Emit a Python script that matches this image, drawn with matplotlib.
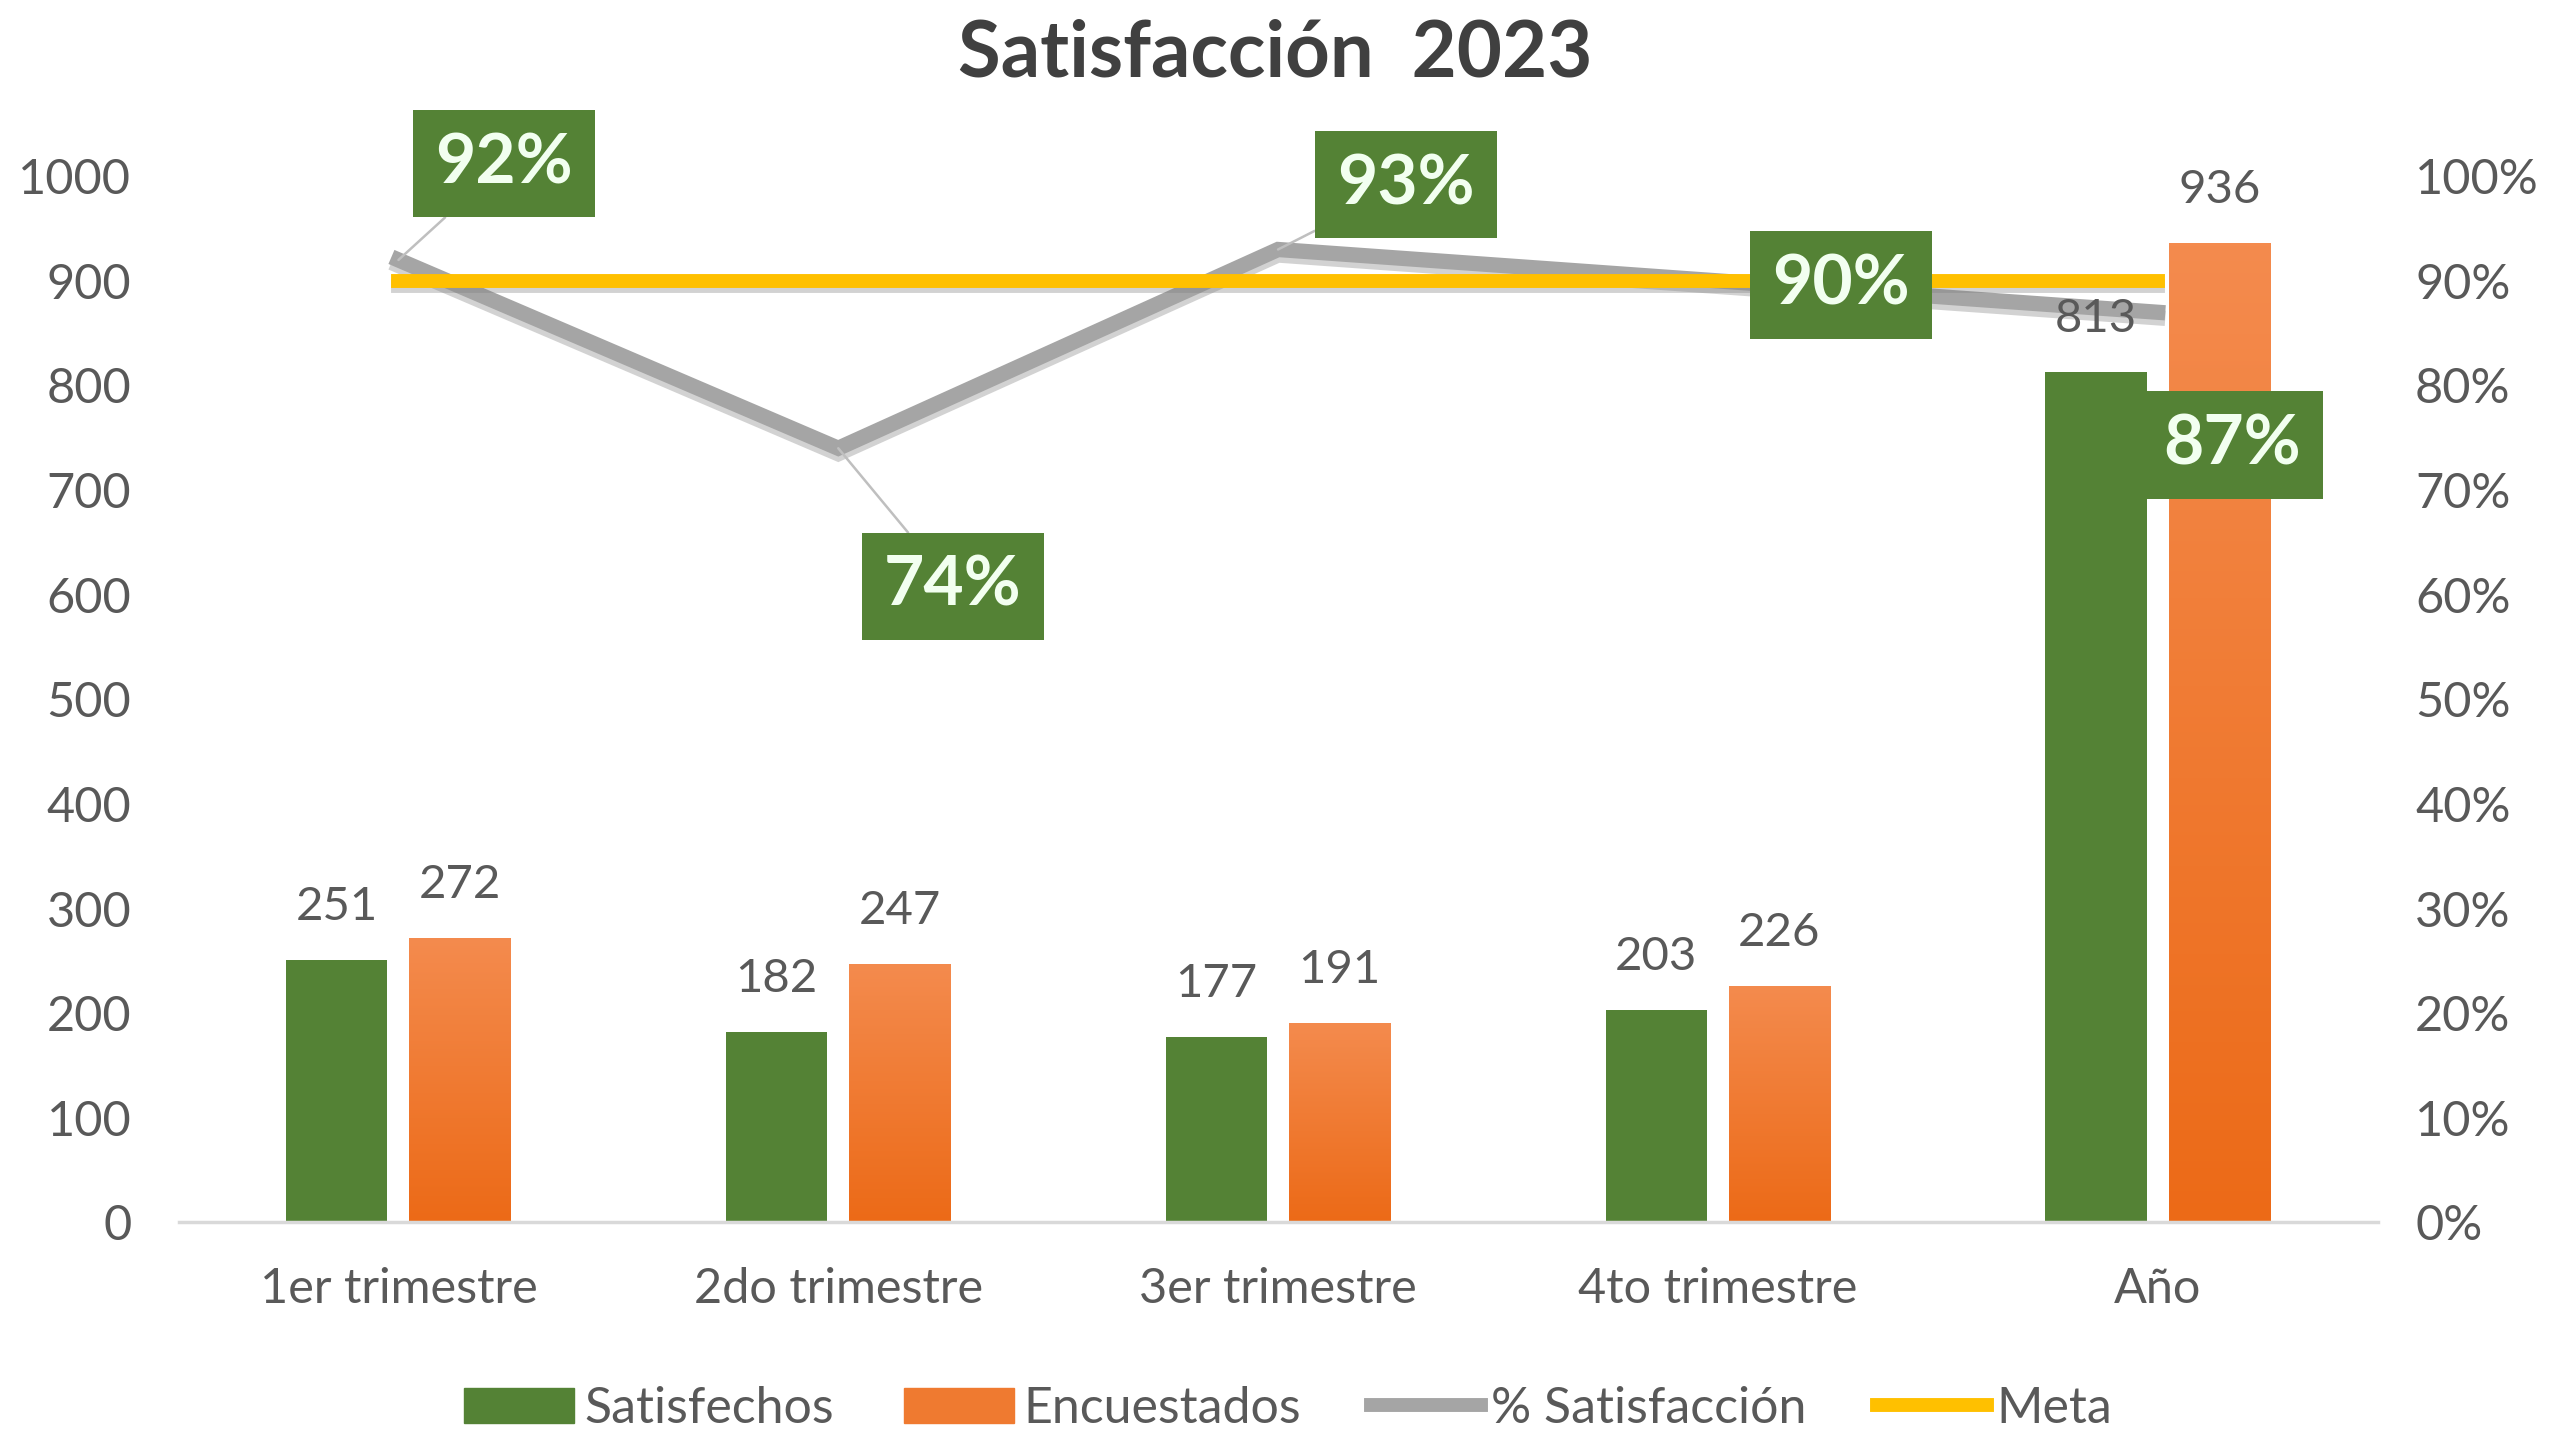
import numpy as np
import matplotlib
matplotlib.use("Agg")
import matplotlib.pyplot as plt
import matplotlib.patheffects as pe
from matplotlib.patches import Patch
from matplotlib.lines import Line2D
from matplotlib.colors import LinearSegmentedColormap

plt.rcParams["font.family"] = ["Lato", "DejaVu Sans"]

# ── data ─────────────────────────────────────
categories = ["1er trimestre", "2do trimestre", "3er trimestre", "4to trimestre", "Año"]
satisfechos = [251, 182, 177, 203, 813]
encuestados = [272, 247, 191, 226, 936]
pct_satisfaccion = [0.92, 0.74, 0.93, 0.90, 0.87]
meta = [0.90, 0.90, 0.90, 0.90, 0.90]
pct_labels = ["92%", "74%", "93%", "90%", "87%"]

# where the green % boxes sit (x in categories, y in right-axis units)
label_pos = [(0.24, 1.012), (1.26, 0.608), (2.29, 0.992), (3.28, 0.896), (4.17, 0.743)]
leader = [True, True, True, False, False]

GREEN = "#548235"
ORANGE_TOP = "#F48B4E"
ORANGE_BOT = "#EC6A17"
GRAY = "#A5A5A5"
YELLOW = "#FFC000"
TEXT = "#595959"

fig = plt.figure(figsize=(25.51, 14.33), dpi=100)
ax = fig.add_axes([0.070, 0.147, 0.862, 0.730])
ax2 = ax.twinx()

x = np.arange(len(categories))
w = 0.23
off = 0.14

ax.bar(x - off, satisfechos, w, color=GREEN, zorder=2)
obars = ax.bar(x + off, encuestados, w, color=ORANGE_BOT, zorder=2)

# vertical gradient on the orange bars
cmap = LinearSegmentedColormap.from_list("og", [ORANGE_BOT, ORANGE_TOP])
grad = np.linspace(0, 1, 256).reshape(-1, 1)
for b in obars:
    x0, y0 = b.get_x(), b.get_y()
    im = ax.imshow(grad, cmap=cmap, origin="lower", aspect="auto", zorder=2.1,
                   extent=[x0, x0 + b.get_width(), y0, y0 + b.get_height()])
    im.set_clip_path(b)

ax.set_xlim(-0.5, 4.5)
ax.set_ylim(0, 1000)
ax2.set_ylim(0, 1.0)

ax.set_xticks(x)
ax.set_xticklabels(categories)
ax.set_yticks(np.arange(0, 1001, 100))
ax2.set_yticks(np.arange(0, 1.01, 0.1))
ax2.set_yticklabels([f"{int(round(v * 100))}%" for v in np.arange(0, 1.01, 0.1)])

for a in (ax, ax2):
    for s in a.spines.values():
        s.set_visible(False)
    a.tick_params(length=0, labelsize=35, colors=TEXT)
ax.tick_params(axis="x", pad=32)
ax.tick_params(axis="y", pad=34)
ax2.tick_params(axis="y", pad=27)
ax.spines["bottom"].set_visible(True)
ax.spines["bottom"].set_color("#D9D9D9")
ax.spines["bottom"].set_linewidth(2.5)

shadow = [pe.SimpleLineShadow(offset=(0, -4), shadow_color="#7f7f7f", alpha=0.35), pe.Normal()]
ax2.plot(x, pct_satisfaccion, color=GRAY, lw=11, solid_joinstyle="miter",
         path_effects=shadow, zorder=3)
ax2.plot(x, meta, color=YELLOW, lw=10, path_effects=shadow, zorder=4)

# bar value labels (on ax2 so they sit over the lines)
for xi, v in zip(x - off, satisfechos):
    ax2.annotate(str(v), (xi, v), xycoords=ax.transData, xytext=(0, 38),
                 textcoords="offset points", ha="center", va="center",
                 fontsize=34, color=TEXT, zorder=5)
for xi, v in zip(x + off, encuestados):
    ax2.annotate(str(v), (xi, v), xycoords=ax.transData, xytext=(0, 38),
                 textcoords="offset points", ha="center", va="center",
                 fontsize=34, color=TEXT, zorder=5)

# green % boxes
for xi, v, lab, pos, ld in zip(x, pct_satisfaccion, pct_labels, label_pos, leader):
    arrow = dict(arrowstyle="-", color="#BFBFBF", lw=1.8, shrinkA=0, shrinkB=0) if ld else None
    ax2.annotate(lab, (xi, v), xytext=pos, textcoords="data",
                 ha="center", va="center", fontsize=50, fontweight="bold",
                 color="#F2FFF0", annotation_clip=False, zorder=6,
                 bbox=dict(boxstyle="square,pad=0.32", fc=GREEN, ec="none"),
                 arrowprops=arrow)

fig.text(0.50, 0.962, "Satisfacción  2023", ha="center", va="center",
         fontsize=56, fontweight="bold", color="#404040")

handles = [Patch(color=GREEN), Patch(color="#EF7A30"),
           Line2D([], [], color=GRAY, lw=10), Line2D([], [], color=YELLOW, lw=10)]
fig.legend(handles, ["Satisfechos", "Encuestados", "% Satisfacción", "Meta"],
           loc="center", bbox_to_anchor=(0.505, 0.017), ncol=4, frameon=False,
           fontsize=36, labelcolor=TEXT, handlelength=2.2, handleheight=0.7,
           handletextpad=0.2, columnspacing=1.4)

fig.savefig("out.png", dpi=100)
